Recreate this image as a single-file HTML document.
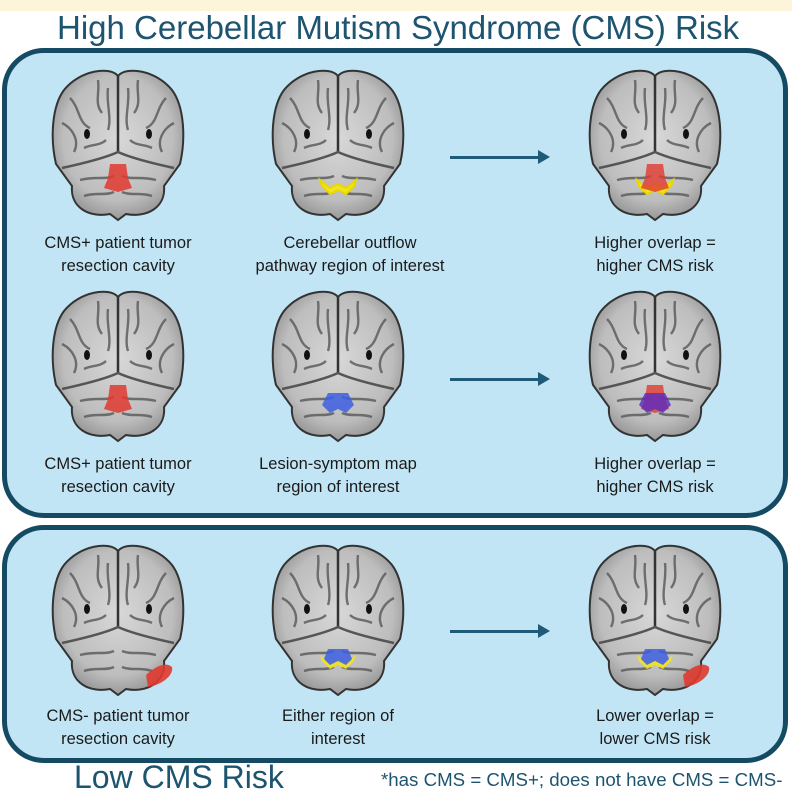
<!DOCTYPE html>
<html><head><meta charset="utf-8"><style>
body{margin:0;width:792px;height:794px;background:#fff;position:relative;overflow:hidden;font-family:"Liberation Sans",sans-serif}
.t{position:absolute;color:#1d5470;white-space:nowrap}
.box{position:absolute;background:#c2e5f5;border:5px solid #144a62;border-radius:42px;box-sizing:border-box}
.l{position:absolute;width:240px;text-align:center;font-size:16.5px;line-height:23px;color:#1a1a1a}
svg.b{position:absolute;width:136px;height:156px}
.ar{position:absolute;height:3px;background:#1f5b78;width:90px}
.ar:after{content:"";position:absolute;right:-10px;top:-6px;border-left:12px solid #1f5b78;border-top:7.5px solid transparent;border-bottom:7.5px solid transparent}
</style></head><body>
<div style="position:absolute;left:0;top:0;width:792px;height:11px;background:#fdf5d9"></div>
<div class="t" style="left:57px;top:9px;font-size:33px">High Cerebellar Mutism Syndrome (CMS) Risk</div>
<div class="box" style="left:2px;top:48px;width:786px;height:470px"></div>
<div class="box" style="left:2px;top:525px;width:786px;height:238px"></div>
<div class="t" style="left:74px;top:759px;font-size:32px">Low CMS Risk</div>
<div class="t" style="left:381px;top:769px;font-size:18.7px">*has CMS = CMS+; does not have CMS = CMS-</div>

<svg width="0" height="0" style="position:absolute"><defs>
<radialGradient id="g" cx="50%" cy="45%" r="60%"><stop offset="0" stop-color="#d8d8d8"/><stop offset="0.7" stop-color="#bdbdbd"/><stop offset="1" stop-color="#8a8a8a"/></radialGradient>
<g id="br">
<path d="M68 8 C60 -2 30 2 14 22 C2 38 0 70 6 96 L22 118 C20 140 40 150 60 146 L68 152 L76 146 C96 150 116 140 114 118 L130 96 C136 70 134 38 122 22 C106 2 76 -2 68 8 Z" fill="url(#g)" stroke="#333" stroke-width="2"/>
<path d="M68 8 L68 84" stroke="#333" stroke-width="2.5" fill="none"/>
<path d="M12 100 C35 95 55 90 68 84 C81 90 101 95 124 100" stroke="#555" stroke-width="2.5" fill="none"/>
<g stroke="#5e5e5e" stroke-width="2.4" fill="none" opacity="0.85">
<path d="M20 30 C30 40 28 55 40 60"/><path d="M48 12 C50 25 44 35 52 45"/><path d="M12 55 C22 60 30 72 24 84"/>
<path d="M116 30 C106 40 108 55 96 60"/><path d="M88 12 C86 25 92 35 84 45"/><path d="M124 55 C114 60 106 72 112 84"/>
<path d="M34 80 C42 76 50 78 56 72"/><path d="M102 80 C94 76 86 78 80 72"/>
<path d="M30 112 C45 108 55 112 64 108"/><path d="M106 112 C91 108 81 112 72 108"/>
<path d="M34 128 C45 124 55 128 64 124"/><path d="M102 128 C91 124 81 128 72 124"/>
<path d="M58 20 C56 35 62 50 58 62"/><path d="M78 20 C80 35 74 50 78 62"/>
</g>
<ellipse cx="37" cy="66" rx="3" ry="5" fill="#111"/><ellipse cx="99" cy="66" rx="3" ry="5" fill="#111"/>
</g></defs></svg>

<!-- row 1 -->
<svg class="b" style="left:50px;top:68px"><use href="#br"/><path d="M60 96 L76 96 L78 110 L82 120 L68 124 L54 120 L58 110Z" fill="#e0392f" opacity="0.85"/></svg>
<svg class="b" style="left:270px;top:68px"><use href="#br"/><path d="M50 112 L60 120 L68 116 L76 120 L86 112 L84 118 L76 126 L68 122 L60 126 L52 118Z" fill="#f2e41e" stroke="#e8d800" stroke-width="2"/></svg>
<svg class="b" style="left:587px;top:68px"><use href="#br"/><path d="M50 112 L60 120 L68 116 L76 120 L86 112 L84 118 L76 126 L68 122 L60 126 L52 118Z" fill="#f2e41e" stroke="#e8d800" stroke-width="2"/><path d="M60 96 L76 96 L78 110 L82 120 L68 124 L54 120 L58 110Z" fill="#e0392f" opacity="0.8"/></svg>
<div class="ar" style="left:450px;top:156px"></div>
<div class="l" style="left:-2px;top:232px">CMS+ patient tumor<br>resection cavity</div>
<div class="l" style="left:230px;top:232px">Cerebellar outflow<br>pathway region of interest</div>
<div class="l" style="left:535px;top:232px">Higher overlap =<br>higher CMS risk</div>

<!-- row 2 -->
<svg class="b" style="left:50px;top:289px"><use href="#br"/><path d="M60 96 L76 96 L78 110 L82 120 L68 124 L54 120 L58 110Z" fill="#e0392f" opacity="0.85"/></svg>
<svg class="b" style="left:270px;top:289px"><use href="#br"/><path d="M58 104 L78 104 L84 116 L76 124 L68 120 L60 124 L52 116Z" fill="#3d5fe0" opacity="0.85"/></svg>
<svg class="b" style="left:587px;top:289px"><use href="#br"/><path d="M60 96 L76 96 L78 110 L82 120 L68 124 L54 120 L58 110Z" fill="#e0392f" opacity="0.8"/><path d="M58 104 L78 104 L84 116 L76 124 L68 120 L60 124 L52 116Z" fill="#5a2bc0" opacity="0.8"/></svg>
<div class="ar" style="left:450px;top:378px"></div>
<div class="l" style="left:-2px;top:453px">CMS+ patient tumor<br>resection cavity</div>
<div class="l" style="left:218px;top:453px">Lesion-symptom map<br>region of interest</div>
<div class="l" style="left:535px;top:453px">Higher overlap =<br>higher CMS risk</div>

<!-- row 3 -->
<svg class="b" style="left:50px;top:543px"><use href="#br"/><path d="M96 132 C104 124 116 118 122 124 C124 132 112 142 98 144Z" fill="#e0392f" opacity="0.9"/></svg>
<svg class="b" style="left:270px;top:543px"><use href="#br"/><path d="M50 112 L60 120 L68 116 L76 120 L86 112 L84 118 L76 126 L68 122 L60 126 L52 118Z" fill="#f2e41e" opacity="0.9"/><path d="M58 106 L78 106 L82 116 L76 122 L68 118 L60 122 L54 116Z" fill="#3d5fe0" opacity="0.85"/></svg>
<svg class="b" style="left:587px;top:543px"><use href="#br"/><path d="M50 112 L60 120 L68 116 L76 120 L86 112 L84 118 L76 126 L68 122 L60 126 L52 118Z" fill="#f2e41e" opacity="0.9"/><path d="M58 106 L78 106 L82 116 L76 122 L68 118 L60 122 L54 116Z" fill="#3d5fe0" opacity="0.85"/><path d="M96 132 C104 124 116 118 122 124 C124 132 112 142 98 144Z" fill="#e0392f" opacity="0.9"/></svg>
<div class="ar" style="left:450px;top:630px"></div>
<div class="l" style="left:-2px;top:705px">CMS- patient tumor<br>resection cavity</div>
<div class="l" style="left:218px;top:705px">Either region of<br>interest</div>
<div class="l" style="left:535px;top:705px">Lower overlap =<br>lower CMS risk</div>
</body></html>
